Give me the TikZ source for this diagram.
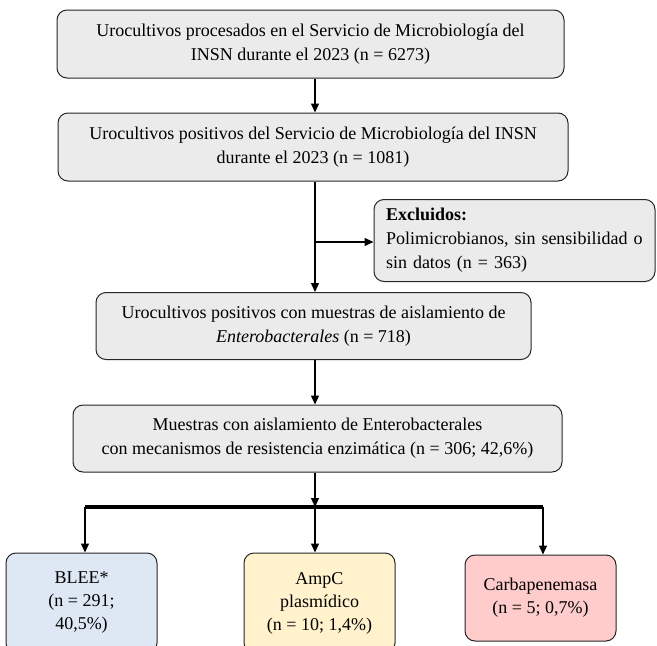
\documentclass[tikz,border=0pt]{standalone}
\usepackage{fontspec}
\setmainfont{Liberation Serif}
\usetikzlibrary{arrows.meta}
\definecolor{boxgrey}{HTML}{EBEBEB}
\definecolor{bleeblue}{HTML}{DEE8F4}
\definecolor{ampcyellow}{HTML}{FFF2CC}
\definecolor{carbred}{HTML}{FFCCCC}
\begin{document}
\begin{tikzpicture}[x=1pt,y=-1pt,
  flowbox/.style={draw=black!85, line width=1pt, rounded corners=10pt, fill=boxgrey,
    align=center, inner sep=0pt, font=\fontsize{18}{24}\selectfont},
  arr/.style={line width=1.4pt, -{Triangle[length=9pt,width=8pt]}},
  thickbar/.style={line width=4pt}]
\useasboundingbox (0,0) rectangle (657,646);
\begin{scope}
\clip (0,0) rectangle (657,646);
\node[flowbox, minimum width=507pt, minimum height=68pt] (b1) at (310.5,44)
  {Urocultivos procesados en el Servicio de Microbiología del\\INSN durante el 2023 (n = 6273)};
\node[flowbox, minimum width=510pt, minimum height=68pt] (b2) at (313,147)
  {Urocultivos positivos del Servicio de Microbiología del INSN\\durante el 2023 (n = 1081)};
\node[flowbox, minimum width=281pt, minimum height=82pt, align=left, text width=257pt] (ex) at (514.5,240.5)
  {\textbf{Excluidos:}\\Polimicrobianos, sin sensibilidad o\\sin datos (n = 363)};
\node[flowbox, minimum width=435pt, minimum height=67pt] (b3) at (313.5,326)
  {Urocultivos positivos con muestras de aislamiento de\\\textit{Enterobacterales} (n = 718)};
\node[flowbox, minimum width=489pt, minimum height=67pt] (b4) at (317.5,438.5)
  {Muestras con aislamiento de Enterobacterales\\con mecanismos de resistencia enzimática (n = 306; 42,6\%)};
\node[flowbox, fill=bleeblue, minimum width=151pt, minimum height=100pt, font=\fontsize{18}{23}\selectfont] (blee) at (81.5,603)
  {BLEE*\\(n = 291;\\40,5\%)};
\node[flowbox, fill=ampcyellow, minimum width=151pt, minimum height=100pt, font=\fontsize{18}{23}\selectfont] (ampc) at (319.5,603)
  {AmpC\\plasmídico\\(n = 10; 1,4\%)};
\node[flowbox, fill=carbred, minimum width=151pt, minimum height=86pt, font=\fontsize{18}{23}\selectfont] (carb) at (540.5,598)
  {Carbapenemasa\\(n = 5; 0,7\%)};
\end{scope}
\coordinate (spine) at (315,0);
\coordinate (branch) at (315,242);
\coordinate (barL) at (85,507);
\coordinate (barM) at (315,507);
\coordinate (barR) at (543,507);
\draw[arr] (b1.south -| spine) -- (b2.north -| spine);
\draw[arr] (b2.south -| spine) -- (b3.north -| spine);
\draw[arr] (branch) -- (branch -| ex.west);
\draw[arr] (b3.south -| spine) -- (b4.north -| spine);
\draw[arr] (b4.south -| spine) -- (barM);
\draw[thickbar] (barL) -- (barR);
\draw[arr] (barL) -- (blee.north -| barL);
\draw[arr] (barM) -- (ampc.north -| barM);
\draw[arr] (barR) -- (carb.north -| barR);
\end{tikzpicture}
\end{document}
